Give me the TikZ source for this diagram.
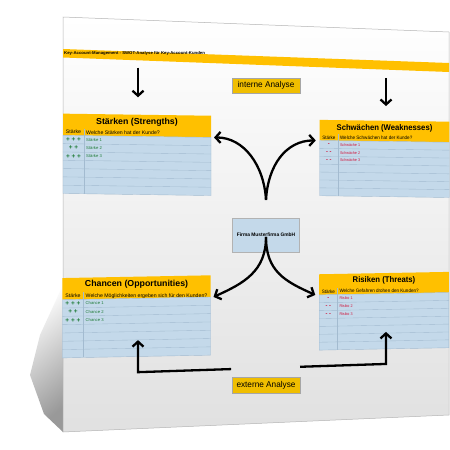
\documentclass[tikz,border=0pt]{standalone}
\usepackage{fontspec}
\setmainfont{Liberation Sans}
\usetikzlibrary{arrows.meta,calc}
\definecolor{gold}{HTML}{FFC000}
\definecolor{tagfill}{HTML}{F0BE00}
\definecolor{skyblue}{HTML}{C4D9EA}
\definecolor{rowline}{HTML}{A3BBD0}
\definecolor{plusgreen}{HTML}{1E7B36}
\definecolor{minusred}{HTML}{D0163C}
\definecolor{pageedge}{HTML}{B5B5B5}

% local frame on the tilted sheet, centred at screen point (#1,#2)
\tikzset{persp/.code 2 args={%
  \pgfmathsetmacro\pagesy{1-0.0002*(#1-63)}%
  \pgfmathsetmacro\pagesx{1-0.0005*(#1-137)}%
  \pgfmathsetmacro\pageb{\pagesx*(#2-224.5)*0.0002/\pagesy}%
  \pgfmathsetmacro\pagetx{#1}%
  \pgfmathsetmacro\pagety{-(#2)}%
  \pgfkeysalso{cm={\pagesx,\pageb,0,\pagesy,(\pagetx pt,\pagety pt)}}},
  flat text/.style={xscale=\pagesx, yscale=\pagesy}}

\begin{document}
\begin{tikzpicture}[x=1pt, y=-1pt,
  bigarrow/.style={line width=2.3pt, -{Straight Barb[length=5pt,width=11pt]}},
  tag/.style={fill=tagfill, draw=black!35, line width=0.4pt, inner sep=0pt,
    minimum width=72.5pt, minimum height=16.2pt, font=\fontsize{8.8}{10}\selectfont},
  titletext/.style={font=\bfseries\fontsize{8.8}{10}\selectfont, inner sep=0pt},
  headtext/.style={font=\fontsize{5.2}{6}\selectfont, inner sep=0pt},
  signtext/.style={font=\bfseries\fontsize{6.5}{7}\selectfont, inner sep=0pt},
  itemtext/.style={font=\fontsize{4.2}{5}\selectfont, inner sep=0pt},
  grid line/.style={draw=rowline, line width=0.35pt}]
  \useasboundingbox (0,0) rectangle (450,450);
  \fill[white] (0,0) rectangle (450,450);

  % drop shadow and tilted sheet
  \shade[top color=white, bottom color=black!40, shading angle=40]
    (63,285) -- (40,335) -- (30,375) -- (44,414) -- (63,432) -- cycle;
  \shade[top color=white, bottom color=black!12, draw=pageedge, line width=0.5pt]
    (63,17) -- (449,32) -- (449,415) -- (63,432) -- cycle;
  \fill[gold] (63,49) -- (449,63) -- (449,72) -- (63,57.5) -- cycle;

  \begin{scope}[persp={64}{53.5}]
    \node[flat text, anchor=west, inner sep=0pt, font=\bfseries\fontsize{4.15}{5}\selectfont] (banner) at (0,0)
      {Key-Account-Management - SWOT-Analyse für Key-Account-Kunden};
  \end{scope}
  \begin{scope}[persp={266}{85.5}]
    \node[tag, flat text] (interne) at (0,0) {interne Analyse};
  \end{scope}
  \begin{scope}[persp={138}{82.5}]
    \coordinate (inL-from) at (0,-15);
    \coordinate (inL-to) at (0,15);
    \draw[bigarrow] (inL-from) -- (inL-to);
  \end{scope}
  \begin{scope}[persp={386}{92}]
    \coordinate (inR-from) at (0,-15);
    \coordinate (inR-to) at (0,15);
    \draw[bigarrow] (inR-from) -- (inR-to);
  \end{scope}

  % the four SWOT tables
  \foreach \name/\cx/\cy/\port/\heading/\question/\tone/\signa/\signb/\signc/\entry in {
    staerken/137/154.6/77/{Stärken (Strengths)}/{Welche Stärken hat der Kunde?}/plusgreen/{+ + +}/{+ +}/{+ + +}/Stärke,
    schwaechen/384.5/158.7/-78.5/{Schwächen (Weaknesses)}/{Welche Schwächen hat der Kunde?}/minusred/{-}/{- -}/{- -}/Schwäche,
    chancen/136.5/316.6/77/{Chancen (Opportunities)}/{Welche Möglichkeiten ergeben sich für den Kunden?}/plusgreen/{+ + +}/{+ +}/{+ + +}/Chance,
    risiken/384/311/-78.5/{Risiken (Threats)}/{Welche Gefahren drohen den Kunden?}/minusred/{-}/{- -}/{- -}/Risiko} {
    \begin{scope}[persp={\cx}{\cy}]
      \fill[gold] (-74,-40.5) rectangle (74,-18.5);
      \filldraw[fill=skyblue, draw=rowline, line width=0.4pt] (-74,-18.5) rectangle (74,40.5);
      \foreach \r in {1,...,6}
        \draw[grid line] (-74,-18.5+\r*8.43) -- (74,-18.5+\r*8.43);
      \draw[grid line] (-53,-25.5) -- (-53,40.5);
      \node[titletext, flat text] (\name) at (0,-32.5) {\heading};
      \node[headtext, flat text] at (-63.5,-22) {Stärke};
      \node[headtext, flat text, anchor=west] at (-51,-22) {\question};
      \foreach \i/\s in {1/\signa,2/\signb,3/\signc} {
        \node[signtext, flat text, text=\tone] at (-63.5,-18.5+\i*8.43-4.2) {\s};
        \node[itemtext, flat text, text=\tone, anchor=west] at (-51,-18.5+\i*8.43-4.2) {\entry~\i};
      }
      \coordinate (\name-port) at (\port,-18.5);
    \end{scope}
  }

  % company in the middle
  \begin{scope}[persp={266}{235}]
    \node[flat text, draw=black!30, fill=skyblue, line width=0.4pt, inner sep=0pt,
      minimum width=71.7pt, minimum height=35.5pt,
      font=\bfseries\fontsize{5.2}{6}\selectfont] (firma) at (0,0) {Firma Musterfirma GmbH};
    \coordinate (hub-top) at (0,-36.5);
    \coordinate (hub-bottom) at (0,2);
    \draw[bigarrow] (hub-top) .. controls +(-2,-36) and +(32,0) .. (staerken-port);
    \draw[bigarrow] (hub-top) .. controls +(2,-36) and +(-32,0) .. (schwaechen-port);
    \draw[bigarrow] (hub-bottom) .. controls +(0,36) and +(32,-14) .. (chancen-port);
    \draw[bigarrow] (hub-bottom) .. controls +(0,36) and +(-32,-14) .. (risiken-port);
  \end{scope}

  \begin{scope}[persp={266}{385}]
    \node[tag, flat text] (externe) at (0,0) {externe Analyse};
    \coordinate (outL) at (-37.4,-17.8);
    \coordinate (cornerL) at (-136.9,-17.8);
    \coordinate (tipL) at (-136.9,-51.2);
    \coordinate (outR) at (36.4,-17.8);
    \coordinate (cornerR) at (128.3,-17.8);
    \coordinate (tipR) at (128.3,-51.2);
    \draw[bigarrow] (outL) -- (cornerL) -- (tipL);
    \draw[bigarrow] (outR) -- (cornerR) -- (tipR);
  \end{scope}
\end{tikzpicture}
\end{document}
